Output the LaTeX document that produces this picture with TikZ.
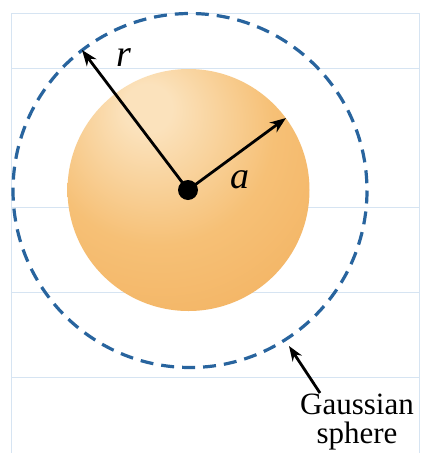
\documentclass[tikz,border=0pt]{standalone}
\usepackage{fontspec}
\setmainfont{Liberation Serif}
\usetikzlibrary{arrows.meta}
\definecolor{gridc}{RGB}{214,228,242}
\definecolor{dashc}{RGB}{40,100,158}
\definecolor{sphlight}{RGB}{251,226,188}
\definecolor{sphmid}{RGB}{246,192,118}
\definecolor{sphedge}{RGB}{240,166,78}
\pgfdeclareradialshading{spherefill}{\pgfpoint{-9bp}{18bp}}{%
  color(0bp)=(sphlight); color(5bp)=(sphlight); color(24bp)=(sphmid);
  color(58bp)=(sphedge); color(80bp)=(sphedge)}
\tikzset{
  gridline/.style={draw=gridc, line width=0.9pt},
  gauss/.style={draw=dashc, line width=3.2pt, dash pattern=on 13pt off 8pt},
  vec/.style={draw=black, line width=2.8pt, -{Stealth[length=16pt,width=12pt]}},
  lbl/.style={font=\fontsize{38}{40}\selectfont\itshape, inner sep=0pt},
  note/.style={font=\fontsize{31}{34}\selectfont, inner sep=0pt, anchor=base}
}
\begin{document}
\begin{tikzpicture}[x=1pt,y=-1pt]
\useasboundingbox (0,0) rectangle (421,453);
\fill[white] (0,0) rectangle (421,453);
% background grid
\draw[gridline] (11,453) -- (11,13) -- (419,13) -- (419,453);
\foreach \yy in {68,207,292,377} \draw[gridline] (11,\yy) -- (419,\yy);
% sphere
\shade[shading=spherefill] (188.5,190) circle (121);
% gaussian sphere
\draw[gauss] (190,190.5) circle (177);
% center
\coordinate (c) at (188,190);
\coordinate (rt) at (82,50);
\coordinate (at) at (286,118);
\draw[vec] (c) -- (rt);
\draw[vec] (c) -- (at);
\fill[black] (c) circle (10);
\node[lbl] (r) at (124,58) {r};
\node[lbl] (a) at (240,180) {a};
% label
\node[note, text depth=0pt] (g1) at (357,414) {Gaussian};
\node[note, text height=0.7em] (g2) at (357,443) {sphere};
\coordinate (gt) at (289,346);
\coordinate (gs) at (320,393);
\draw[line width=2.8pt, -{Stealth[length=15pt,width=11pt]}] (gs) -- (gt);
\end{tikzpicture}
\end{document}
